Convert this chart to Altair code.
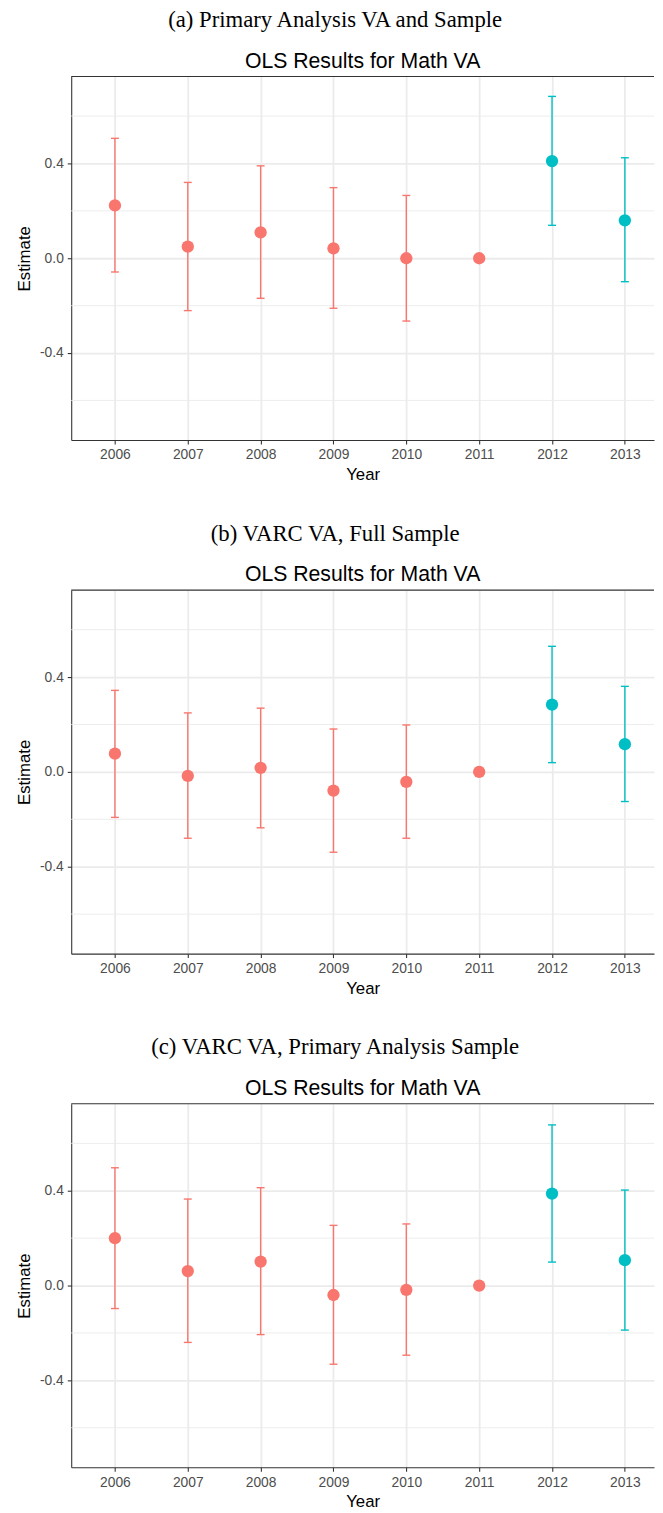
import altair as alt
import pandas as pd

years = [2006, 2007, 2008, 2009, 2010, 2011, 2012, 2013]
groups = ["pre", "pre", "pre", "pre", "pre", "pre", "post", "post"]

captions = [
    "(a) Primary Analysis VA and Sample",
    "(b) VARC VA, Full Sample",
    "(c) VARC VA, Primary Analysis Sample",
]
plot_title = "OLS Results for Math VA"

est_a = [0.223, 0.049, 0.109, 0.042, 0.0, 0.0, 0.410, 0.160]
lo_a = [-0.058, -0.221, -0.169, -0.211, -0.265, None, 0.139, -0.099]
hi_a = [0.506, 0.320, 0.390, 0.298, 0.265, None, 0.683, 0.424]

est_b = [0.077, -0.017, 0.017, -0.079, -0.042, 0.0, 0.284, 0.117]
lo_b = [-0.192, -0.280, -0.236, -0.339, -0.280, None, 0.039, -0.125]
hi_b = [0.344, 0.249, 0.269, 0.181, 0.198, None, 0.530, 0.361]

est_c = [0.200, 0.061, 0.101, -0.040, -0.018, 0.0, 0.388, 0.107]
lo_c = [-0.097, -0.240, -0.207, -0.332, -0.294, None, 0.099, -0.188]
hi_c = [0.497, 0.365, 0.413, 0.254, 0.260, None, 0.678, 0.403]

major_y = [-0.4, 0.0, 0.4]
minor_y = [-0.6, -0.2, 0.2, 0.6]

PRE = "#F8766D"
POST = "#00BFC4"
W, H = 590, 368
SANS = "Liberation Sans"


def panel(est, lo, hi, caption):
    df = pd.DataFrame({"Year": years, "Estimate": est, "lo": lo, "hi": hi, "Group": groups})
    xscale = alt.Scale(domain=[2005.4, 2013.4], nice=False, zero=False)
    yscale = alt.Scale(domain=[-0.767, 0.767], nice=False, zero=False)
    xaxis = alt.Axis(values=years, format="d", title="Year", grid=True,
                     labelPadding=4, titlePadding=5, labelFontSize=14)
    yaxis = alt.Axis(values=major_y, format=".1f", title="Estimate", labelPadding=4,
                     titlePadding=6, labelFontSize=14, grid=True,
                     labelExpr="replace(datum.label, '\u2212', '-')")
    xenc = alt.X("Year:Q", scale=xscale, axis=xaxis)
    color = alt.Color("Group:N", scale=alt.Scale(domain=["pre", "post"], range=[PRE, POST]), legend=None)

    minor = alt.Chart(pd.DataFrame({"Estimate": minor_y})).mark_rule(
        color="#EBEBEB", strokeWidth=0.9
    ).encode(y=alt.Y("Estimate:Q", scale=yscale, axis=yaxis))

    base = alt.Chart(df)
    stems = base.mark_rule(strokeWidth=1.4, opacity=1).encode(
        x=xenc, y=alt.Y("lo:Q", scale=yscale, axis=yaxis), y2="hi:Q", color=color
    )
    cap_hi = base.mark_tick(orient="horizontal", size=8, thickness=1.4, opacity=1).encode(
        x=xenc, y=alt.Y("hi:Q", scale=yscale, axis=yaxis), color=color
    )
    cap_lo = base.mark_tick(orient="horizontal", size=8, thickness=1.4, opacity=1).encode(
        x=xenc, y=alt.Y("lo:Q", scale=yscale, axis=yaxis), color=color
    )
    pts = base.mark_circle(size=155, opacity=1).encode(
        x=xenc, y=alt.Y("Estimate:Q", scale=yscale, axis=yaxis), color=color
    )
    top = alt.Chart(pd.DataFrame({"Estimate": [0]})).mark_rule(
        color="#333333", strokeWidth=1.1
    ).encode(x=alt.value(0), x2=alt.value(W), y=alt.value(0))

    inner = alt.layer(minor, stems, cap_hi, cap_lo, pts, top).properties(
        width=W, height=H,
        title=alt.TitleParams(plot_title, font=SANS, fontSize=21.5, fontWeight="normal",
                              color="black", anchor="middle", frame="group", offset=4),
    )
    return alt.vconcat(inner, title=alt.TitleParams(
        caption, font="Liberation Serif", fontSize=23, fontWeight="normal", color="black",
        anchor="middle", frame="bounds", offset=19))


chart = alt.vconcat(
    panel(est_a, lo_a, hi_a, captions[0]),
    panel(est_b, lo_b, hi_b, captions[1]),
    panel(est_c, lo_c, hi_c, captions[2]),
    spacing=40,
).properties(
    padding={"left": 7, "top": -9, "right": 0, "bottom": 0}
).configure_view(stroke=None).configure_axis(
    domainColor="#333333", domainWidth=1.1,
    tickColor="#333333", tickWidth=1.1, tickSize=4,
    labelColor="#4D4D4D", labelFontSize=14, labelFont=SANS,
    titleFont=SANS, titleFontSize=17, titleFontWeight="normal", titleColor="black",
    gridColor="#EBEBEB", gridWidth=1.8,
)

chart.save("out.html", embed_options={"renderer": "svg", "actions": False})
